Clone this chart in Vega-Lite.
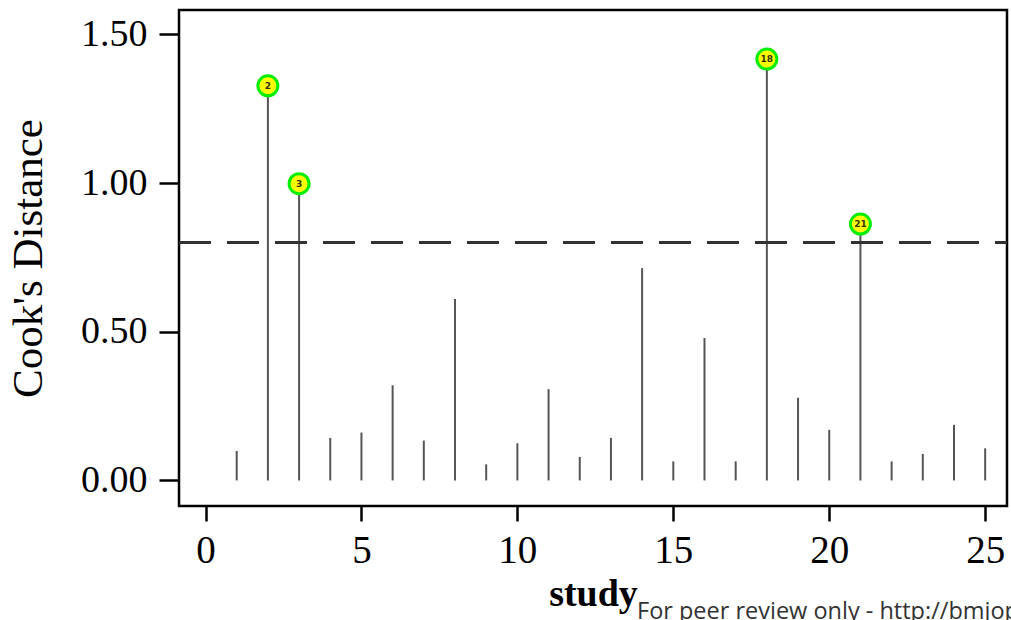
{
  "$schema": "https://vega.github.io/schema/vega-lite/v6.json",
  "autosize": "none",
  "width": 828,
  "height": 496,
  "padding": {"left": 179, "top": 10, "right": 4, "bottom": 114},
  "background": "white",
  "config": {
    "view": {"stroke": "black", "strokeWidth": 2.5},
    "font": "Liberation Serif"
  },
  "title": {
    "text": "For peer review only - http://bmjopen.bmj.com/site/about/guidelines.xhtml",
    "orient": "bottom",
    "anchor": "start",
    "frame": "group",
    "dx": 458,
    "offset": -13,
    "font": "Open Sans",
    "fontSize": 23.5,
    "fontWeight": "normal",
    "color": "#333333"
  },
  "data": {
    "values": [
      {"study": 1, "cooks": 0.099, "label": ""},
      {"study": 2, "cooks": 1.327, "label": "2"},
      {"study": 3, "cooks": 0.998, "label": "3"},
      {"study": 4, "cooks": 0.143, "label": ""},
      {"study": 5, "cooks": 0.161, "label": ""},
      {"study": 6, "cooks": 0.32, "label": ""},
      {"study": 7, "cooks": 0.134, "label": ""},
      {"study": 8, "cooks": 0.61, "label": ""},
      {"study": 9, "cooks": 0.054, "label": ""},
      {"study": 10, "cooks": 0.125, "label": ""},
      {"study": 11, "cooks": 0.307, "label": ""},
      {"study": 12, "cooks": 0.079, "label": ""},
      {"study": 13, "cooks": 0.143, "label": ""},
      {"study": 14, "cooks": 0.714, "label": ""},
      {"study": 15, "cooks": 0.064, "label": ""},
      {"study": 16, "cooks": 0.479, "label": ""},
      {"study": 17, "cooks": 0.064, "label": ""},
      {"study": 18, "cooks": 1.417, "label": "18"},
      {"study": 19, "cooks": 0.278, "label": ""},
      {"study": 20, "cooks": 0.17, "label": ""},
      {"study": 21, "cooks": 0.862, "label": "21"},
      {"study": 22, "cooks": 0.064, "label": ""},
      {"study": 23, "cooks": 0.089, "label": ""},
      {"study": 24, "cooks": 0.187, "label": ""},
      {"study": 25, "cooks": 0.108, "label": ""}
    ]
  },
  "encoding": {
    "x": {
      "field": "study",
      "type": "quantitative",
      "scale": {"domain": [-0.85, 25.7], "nice": false, "zero": false},
      "axis": {
        "title": "study",
        "values": [0, 5, 10, 15, 20, 25],
        "grid": false,
        "domain": false,
        "tickSize": 15,
        "tickWidth": 2.5,
        "tickColor": "black",
        "labelFont": "Liberation Serif",
        "labelFontSize": 39,
        "labelColor": "black",
        "labelPadding": 10,
        "labelFlush": false,
        "titleFont": "Liberation Serif",
        "titleFontSize": 38,
        "titleFontWeight": "bold",
        "titleColor": "black",
        "titlePadding": 5
      }
    },
    "y": {
      "field": "cooks",
      "type": "quantitative",
      "scale": {"domain": [-0.086, 1.582], "nice": false, "zero": false},
      "axis": {
        "title": "Cook's Distance",
        "values": [0, 0.5, 1, 1.5],
        "format": ".2f",
        "grid": false,
        "domain": false,
        "tickSize": 20,
        "tickWidth": 2.5,
        "tickColor": "black",
        "labelFont": "Liberation Serif",
        "labelFontSize": 38,
        "labelColor": "black",
        "labelPadding": 12,
        "labelFlush": false,
        "titleFont": "Liberation Serif",
        "titleFontSize": 43,
        "titleFontWeight": "normal",
        "titleColor": "black",
        "titlePadding": 30
      }
    }
  },
  "layer": [
    {
      "mark": {"type": "rule", "color": "#555555", "strokeWidth": 2},
      "encoding": {"y2": {"datum": 0}}
    },
    {
      "mark": {"type": "rule", "color": "#333333", "strokeWidth": 2.5, "strokeDash": [32, 16]},
      "encoding": {"x": {"value": 0}, "x2": {"value": 828}, "y": {"datum": 0.8}}
    },
    {
      "transform": [{"filter": "datum.label != ''"}],
      "mark": {"type": "point", "shape": "circle", "filled": true, "fill": "#ffff00", "stroke": "#00ee00", "strokeWidth": 3, "size": 400, "opacity": 1}
    },
    {
      "transform": [{"filter": "datum.label != ''"}],
      "mark": {"type": "text", "font": "DejaVu Sans", "fontSize": 9, "fontWeight": "bold", "color": "#333300", "baseline": "middle", "align": "center"},
      "encoding": {"text": {"field": "label"}}
    }
  ]
}
